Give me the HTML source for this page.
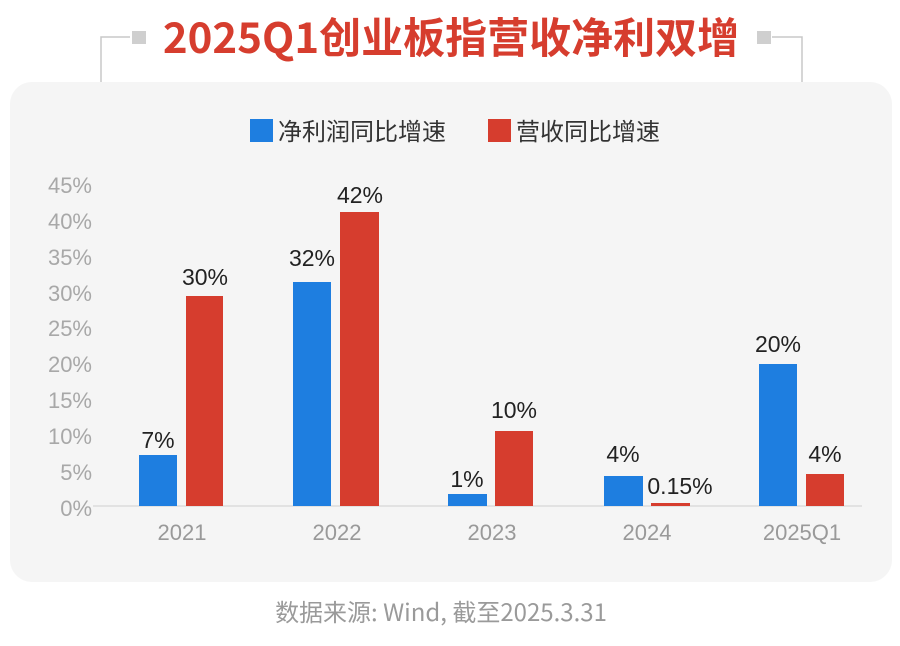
<!DOCTYPE html>
<html><head><meta charset="utf-8"><style>
body{margin:0;width:900px;height:646px;background:#fff;position:relative;overflow:hidden;font-family:"Liberation Sans","Noto Sans CJK SC",sans-serif}
.card{position:absolute;left:10px;top:82px;width:882px;height:500px;background:#f5f5f5;border-radius:22px}
</style></head><body>
<div class="card"></div>
<svg width="900" height="646" style="position:absolute;left:0;top:0" font-family="Liberation Sans, Noto Sans CJK SC, sans-serif">
<path d="M101 82 V37 H130 M802 82 V37 H772" stroke="#c8c8c8" stroke-width="1.5" fill="none"/>
<rect x="132" y="31" width="14" height="13" fill="#cfcfcf"/>
<rect x="757" y="31" width="14" height="13" fill="#cfcfcf"/>
<text x="451" y="53" text-anchor="middle" font-size="42" font-weight="bold" fill="#d63d2e" font-family="Noto Sans CJK SC, sans-serif">2025Q1创业板指营收净利双增</text>
<rect x="250" y="119" width="23" height="23" fill="#1e7ee0"/>
<text x="278" y="140" font-size="24" fill="#333" font-family="Noto Sans CJK SC, sans-serif">净利润同比增速</text>
<rect x="488" y="119" width="23" height="23" fill="#d63d2e"/>
<text x="516" y="140" font-size="24" fill="#333" font-family="Noto Sans CJK SC, sans-serif">营收同比增速</text>
<g font-size="22" fill="#a8a8a8" text-anchor="end">
<text x="92" y="193">45%</text><text x="92" y="229">40%</text><text x="92" y="265">35%</text><text x="92" y="301">30%</text><text x="92" y="336">25%</text><text x="92" y="372">20%</text><text x="92" y="408">15%</text><text x="92" y="444">10%</text><text x="92" y="480">5%</text><text x="92" y="516">0%</text>
</g>
<line x1="93" y1="506" x2="862" y2="506" stroke="#dcdcdc" stroke-width="1.5"/>
<g fill="#1e7ee0">
<rect x="139" y="455" width="38" height="51"/><rect x="293" y="282" width="38" height="224"/><rect x="448" y="494" width="39" height="12"/><rect x="604" y="476" width="39" height="30"/><rect x="759" y="364" width="38" height="142"/>
</g>
<g fill="#d63d2e">
<rect x="186" y="296" width="37" height="210"/><rect x="340" y="212" width="39" height="294"/><rect x="495" y="431" width="38" height="75"/><rect x="651" y="503" width="39" height="3"/><rect x="806" y="474" width="38" height="32"/>
</g>
<g font-size="23" fill="#222" text-anchor="middle">
<text x="158" y="448">7%</text><text x="205" y="285">30%</text>
<text x="312" y="266">32%</text><text x="360" y="203">42%</text>
<text x="467" y="487">1%</text><text x="514" y="418">10%</text>
<text x="623" y="462">4%</text><text x="680" y="494">0.15%</text>
<text x="778" y="352">20%</text><text x="825" y="462">4%</text>
</g>
<g font-size="22" fill="#999" text-anchor="middle">
<text x="182" y="540">2021</text><text x="337" y="540">2022</text><text x="492" y="540">2023</text><text x="647" y="540">2024</text><text x="802" y="540">2025Q1</text>
</g>
<text x="441" y="621" text-anchor="middle" font-size="24" fill="#9a9a9a" font-family="Noto Sans CJK SC, sans-serif">数据来源: Wind, 截至2025.3.31</text>
</svg>
</body></html>
